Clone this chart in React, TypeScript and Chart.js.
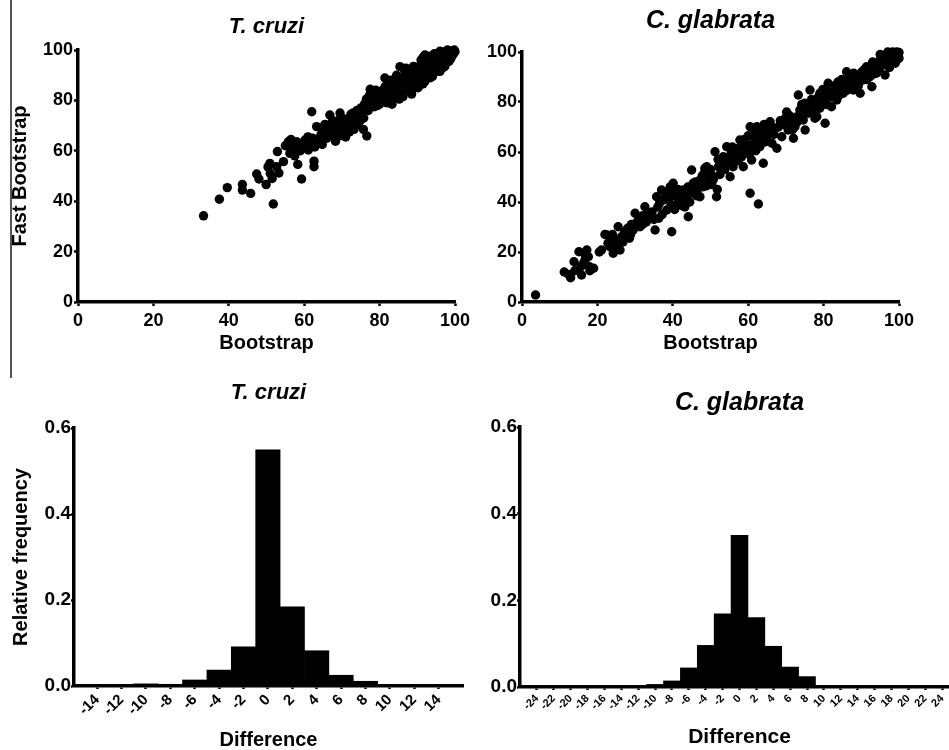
import React, { useEffect, useRef } from "react";
import { Chart, registerables } from "chart.js";
Chart.register(...registerables);

// ---------- data ----------
const scatterTicks = [0, 20, 40, 60, 80, 100];
const freqTicks = [0, 0.2, 0.4, 0.6];

// T. cruzi: [Bootstrap, Fast Bootstrap]
const tcruziScatter: [number, number][] = [
  [33.3, 34.2], [37.5, 40.8], [39.6, 45.4], [43.6, 46.6], [43.6, 44.4], [45.8, 43.1], [47.4, 50.8], [48, 48.8],
  [49.9, 46.6], [51.8, 38.9], [50.4, 53.6], [51, 51], [50.9, 55], [52.7, 53.7], [52.9, 59.7], [54.5, 55.7],
  [53.3, 51.2], [51.5, 49], [58.3, 54.6], [59.3, 48.8], [62.6, 55.9], [62.6, 53.7], [62, 75.5],
  [55.8, 63.6], [56.2, 59], [57, 61.5], [58, 63.6], [58.5, 60.5], [59.2, 62.5], [60.2, 64.3], [60.5, 61.8],
  [61.1, 60.3], [61.5, 63], [62.2, 65], [62.8, 61.5], [63.3, 69.6], [63.5, 64], [64.2, 63.6], [64.5, 66.5],
  [65.1, 67.6], [65.5, 70.5], [66, 65], [66.8, 74.2], [66.5, 68], [67.2, 66.3], [67.8, 69], [68.6, 69.6],
  [68.3, 63.8], [69, 72], [69.5, 66], [69.5, 75], [70.2, 68], [70.5, 70.5], [71, 65.5], [71.3, 72.5],
  [71.8, 69.5], [72.4, 74.5], [72.8, 71], [73.2, 68.5], [73.5, 73.5], [74, 76], [74.3, 70.5], [75, 72.3],
  [75.7, 68.5], [76.6, 65.9], [75.5, 75], [76, 78.5], [76.5, 80.5], [77, 76], [77.5, 84.4], [77.8, 79],
  [78.2, 81.5], [78.6, 77.5], [79.2, 80], [79.6, 83], [80, 78.5], [80.3, 81], [80.8, 84], [81.3, 79.5],
  [81.4, 88.9], [81.8, 82.5], [82.3, 85], [82.5, 80.4], [82.8, 83.5], [83.3, 78.5], [83.5, 86.5], [84, 82],
  [84.4, 84.5], [84.8, 87.5], [85.4, 93.4], [85.2, 80.5], [85.6, 85.5], [86, 83], [86, 88.5], [86.5, 86],
  [86.9, 90], [87.3, 84], [87.5, 88], [88, 86], [88, 91.5], [88.5, 89], [88.8, 84.5], [89.2, 92.5],
  [89.5, 87.5], [89.8, 90.5], [90.2, 85], [90.5, 93.5], [90.7, 88.5], [91, 96], [91.2, 91], [91.5, 86.5],
  [91.8, 94], [92.2, 89.5], [92.5, 92.5], [92.8, 96.5], [93.2, 90.5], [93.5, 94.5], [93.8, 92], [94.2, 97],
  [94.5, 93.5], [94.8, 95.5], [95.2, 91.5], [95.5, 97], [95.8, 94.5], [96.2, 96], [96.5, 98.5], [96.8, 93],
  [97.2, 97.5], [97.5, 95.5], [97.8, 99.5], [98.2, 97], [98.5, 98.5], [98.8, 96.5], [99.2, 99.5], [99.5, 98.2],
  [99.8, 100], [100, 99.3], [98, 100], [97, 99.2], [95, 98.5], [93, 97.5], [94, 89.5], [90, 91.5],
  [88.5, 82.5], [87, 91.5], [84.5, 90], [83, 88], [86.2, 81.5], [92, 98], [96, 91.5],
  [55, 62], [56.5, 64.5], [57.5, 58], [59, 60], [60, 63.5], [61, 65.5], [62, 62], [63, 64.5], [64, 65],
  [64.8, 62.5], [65.5, 66], [66.2, 70], [67, 68.5], [67.5, 72], [68, 65.5], [68.8, 67.5], [69.3, 70], [70, 73],
  [70.8, 67], [71.5, 70], [72, 67.5], [72.5, 72], [73, 75], [73.8, 72], [74.5, 74], [75, 77], [75.8, 73],
  [76.3, 76.5], [77, 79.5], [77.3, 82], [78, 78], [78.8, 80.5], [79, 84], [79.5, 78], [80.2, 83], [80.5, 80],
  [81, 82], [81.5, 85.5], [82, 79], [82.6, 87], [83, 84.5], [83.8, 81], [84.2, 85.5], [84.6, 83], [85, 88],
  [85.8, 84], [86.3, 87], [86.7, 91.5], [87, 85.5], [87.7, 89], [88.2, 87.5], [88.7, 90.5], [89, 85.5],
  [89.5, 89], [90, 87], [90.3, 90], [90.8, 92], [91.3, 89], [91.7, 92.5], [92, 87.5], [92.3, 95], [92.7, 91],
  [93, 93.5], [93.5, 89], [93.8, 96], [94.3, 94.5], [94.7, 92], [95, 96], [95.5, 93.5], [95.8, 98], [96.3, 94],
  [96.7, 96.5], [97, 98], [97.3, 93.5], [97.7, 96.5], [98, 98.5], [98.4, 95.5], [98.7, 99.5], [99, 97],
  [99.3, 98.8], [99.7, 99], [96, 99.5], [94.5, 98.5], [91.5, 97], [89, 93.5], [87, 92.8],
];

// C. glabrata: [Bootstrap, Fast Bootstrap]
const glabrataScatter: [number, number][] = [
  [3.6, 2.8], [11.2, 12], [12.4, 11], [12.9, 9.7], [13.8, 16.1], [15.6, 14.1], [16.3, 15.5], [17.2, 20.8],
  [17.6, 18.1], [17.9, 14.1], [15.1, 20.1], [16.7, 16.8], [15.8, 10.8], [18, 12.5],
  [21.1, 20.8], [22.5, 26.8], [23.3, 22.1], [24.2, 19.5], [25.5, 23.5], [25.5, 30.1], [26, 20.8], [26.4, 26.1],
  [22, 27], [23.8, 24.5], [24.8, 21.5], [26.8, 24], [27.2, 28], [27.8, 27.5], [28.5, 25.5], [29.5, 28.8],
  [30, 35.5], [29, 31], [31.3, 30.1], [31, 33], [32.6, 38.1], [32, 34.5], [33, 32], [34, 34.1], [35.3, 28.8],
  [35.7, 42.1], [34.5, 36], [36, 38], [36.3, 33.5],
  [37, 44.8], [37.5, 40.8], [38.4, 36.8], [38, 42], [39.3, 46.1], [39.7, 28.1], [40.1, 47.5], [39.5, 39],
  [40, 43.5], [40.5, 37], [41, 42.1], [41.4, 45], [41.9, 39.5], [42.3, 41.5], [42.8, 44.8], [43.2, 38],
  [43.7, 40.8], [44.1, 34.1], [44.6, 43.5], [45, 52.8], [45.4, 47.5], [45.8, 45], [46.3, 42.5], [47.2, 48.8],
  [47.2, 42.1], [47.8, 50.5], [48.1, 46.1], [48.5, 53.5], [49, 54.1], [49.5, 49], [49.9, 51.5], [50.3, 47],
  [50.7, 48.8], [51.2, 60.1], [51.6, 42.1], [51.8, 45], [52.1, 54.1], [52.5, 51], [53, 56], [53.4, 58.1],
  [53.8, 53], [54.3, 62.1], [54.8, 57], [55.2, 50.1], [55.5, 59.5], [56, 54.1], [56.4, 61], [57, 60.1],
  [57.4, 56.5], [57.8, 64.8], [58.2, 58], [58.7, 54.1], [59.2, 62.5], [59.6, 60.8], [60, 66.5], [60.5, 70.1],
  [60.5, 43.5], [60.9, 56.8], [61.2, 63], [61.4, 66.1], [61.8, 68.5], [62, 60.5], [62.3, 70.1], [62.7, 39.2],
  [62.8, 65], [63.1, 62.1], [63.5, 67.5], [64, 68.8], [64, 55.5], [64.4, 64], [64.9, 66.1], [65.3, 69.5],
  [65.8, 72.1], [66.3, 63.5], [66.8, 67], [67.6, 61.5], [68, 70], [68.9, 66.1], [69.4, 71], [69.8, 73.5],
  [70.2, 76], [70.6, 68.8], [71.2, 72.5], [72, 65.5], [72.4, 70.1], [72.8, 74], [73.3, 82.8], [73.7, 76.8],
  [74.2, 79], [74.6, 72.8], [75.1, 68.8], [75.5, 77.5], [75.9, 75.5], [76.4, 84.8], [76.8, 81], [77.3, 79.5],
  [77.7, 73.5], [78.2, 74.1], [78.6, 82], [79, 77.5], [79.4, 80], [79.8, 85], [80.4, 71.5], [80.4, 82.1],
  [80.8, 79], [81.2, 87.5], [81.6, 83], [82.1, 78.1], [82.6, 84.1], [83, 86.5], [83.5, 80.8], [84, 82.5],
  [84.4, 86.1], [84.8, 89], [85.2, 83.5], [85.6, 85.5], [86.1, 92.1], [86.5, 88], [87, 87.5], [87.4, 90],
  [87.9, 84.8], [88.3, 88.5], [88.8, 90.1], [89.2, 86.5], [89.7, 83.5], [90.1, 92], [90.5, 88.8], [91, 90.5],
  [91.4, 94.1], [91.8, 91.5], [92.3, 90.1], [92.8, 86.1], [93.2, 93], [93.6, 94.1], [94, 91.5], [94.5, 96.1],
  [94.9, 93.5], [95.4, 97.5], [95.8, 95], [96.3, 90.8], [96.7, 94.8], [97.1, 97], [97.6, 98.8], [98, 96],
  [98.5, 97.5], [98.9, 99.2], [99, 95.5], [99.4, 100], [99.8, 98.5], [100, 99.8], [97, 100], [96, 98.5],
  [98.3, 100], [95, 99], [93, 96], [99.5, 97], [100, 97.5],
  [19, 13.5], [14, 12.5], [16.5, 19.5], [20.5, 20], [22.8, 23.5], [24, 27], [25, 25], [27, 25.5], [28, 29.5],
  [28.8, 27], [30.5, 32], [32, 31], [33.5, 35.5], [35, 33], [36.5, 39.5], [37.2, 35], [38.5, 44], [39, 41.5],
  [40.5, 45], [41, 39], [41.8, 43.5], [42.5, 38.5], [43, 43], [44, 46], [44.5, 40], [45.5, 44], [46, 48],
  [46.8, 45.5], [47.5, 47], [48.3, 51.5], [49, 46.5], [50, 53], [51, 50], [52, 57], [53, 53.5], [54, 55.5],
  [55, 58], [55.8, 62], [56.5, 57.5], [57.5, 61.5], [58.5, 60], [59, 65], [59.8, 63], [60.3, 59], [61, 61.5],
  [61.5, 69.5], [62, 67], [62.5, 63.5], [63, 69], [63.5, 64.5], [64.2, 71], [65, 67.5], [66, 70.5], [67, 69],
  [68.5, 72.5], [70, 71], [71, 74.5], [71.8, 69], [73, 72], [74, 75], [75, 79.5], [76, 78], [77, 76.5],
  [78, 80.5], [79, 83.5], [80, 81], [81, 84.5], [82, 82], [83, 83.5], [83.8, 88], [84.5, 84], [85.5, 87.5],
  [86, 84.5], [86.8, 89.5], [87.5, 86], [88, 91.5], [89, 88], [90, 90], [90.8, 93], [91.5, 89], [92, 92.5],
  [93, 91], [93.8, 95.5], [94.3, 93], [95, 94], [95.6, 96.5], [96.2, 95.5], [96.8, 97.5], [97.3, 95],
  [97.8, 99.5], [98.2, 97], [98.7, 98.5], [99.2, 96.5], [99.6, 99], [97.5, 93.8],
];

// Histograms of Fast Bootstrap - Bootstrap
const tcruziBins = [-14, -12, -10, -8, -6, -4, -2, 0, 2, 4, 6, 8, 10, 12, 14];
const tcruziFreq = [0.001, 0.003, 0.005, 0.004, 0.014, 0.037, 0.091, 0.549, 0.184, 0.082, 0.025, 0.011, 0.001, 0.001, 0.003];

const glabrataBins = [-24, -22, -20, -18, -16, -14, -12, -10, -8, -6, -4, -2, 0, 2, 4, 6, 8, 10, 12, 14, 16, 18, 20, 22, 24];
const glabrataFreq = [0.002, 0.001, 0.001, 0.001, 0.002, 0.001, 0.002, 0.006, 0.014, 0.044, 0.096, 0.169, 0.35, 0.16, 0.094, 0.046, 0.024, 0, 0, 0, 0, 0, 0, 0, 0];

// ---------- styling helpers ----------
const FONT = "'Liberation Sans', Arial, sans-serif";
const BLACK = "#000";

function axisLines(tickLength: number) {
  return {
    grid: {
      display: true,
      drawOnChartArea: false,
      drawTicks: true,
      tickLength,
      tickWidth: 2.5,
      tickColor: BLACK,
      offset: false,
    },
    border: { display: true, width: 3.5, color: BLACK },
  };
}

function setTicks(values: number[]) {
  return (scale: any) => {
    scale.ticks = values.map((v) => ({ value: v }));
  };
}

interface ScatterOpts {
  points: [number, number][];
  title: string;
  titleSize: number;
  titlePad: { top: number; bottom: number };
  yTitle?: string;
  yWidth: number;
  xHeight: number;
  padRight: number;
}

function scatterConfig(p: ScatterOpts): any {
  return {
    type: "scatter",
    data: {
      datasets: [
        {
          data: p.points.map(([x, y]) => ({ x, y })),
          pointRadius: 4.7,
          pointBackgroundColor: BLACK,
          pointBorderWidth: 0,
          clip: false,
        },
      ],
    },
    options: {
      animation: false,
      responsive: false,
      events: [],
      layout: { padding: { left: 0, right: p.padRight, top: 0, bottom: 0 } },
      plugins: {
        legend: { display: false },
        tooltip: { enabled: false },
        title: {
          display: true,
          fullSize: false,
          text: p.title,
          color: BLACK,
          font: { family: FONT, size: p.titleSize, weight: "bold", style: "italic", lineHeight: 1.2 },
          padding: p.titlePad,
        },
      },
      scales: {
        x: {
          type: "linear",
          min: 0,
          max: 100,
          afterBuildTicks: setTicks(scatterTicks),
          afterFit: (s: any) => {
            s.height = p.xHeight;
          },
          ticks: { color: BLACK, font: { family: FONT, size: 18, weight: "bold" }, padding: 4, maxRotation: 0, autoSkip: false },
          title: {
            display: true,
            text: "Bootstrap",
            color: BLACK,
            font: { family: FONT, size: 20, weight: "bold", lineHeight: 1.2 },
            padding: { top: 0, bottom: 20 },
          },
          ...axisLines(4),
        },
        y: {
          type: "linear",
          min: 0,
          max: 100,
          afterBuildTicks: setTicks(scatterTicks),
          afterFit: (s: any) => {
            s.width = p.yWidth;
          },
          ticks: { color: BLACK, font: { family: FONT, size: 18, weight: "bold" }, padding: 1, autoSkip: false },
          title: p.yTitle
            ? {
                display: true,
                text: p.yTitle,
                color: BLACK,
                font: { family: FONT, size: 20, weight: "bold", lineHeight: 1.2 },
                padding: { top: 8.5, bottom: 0 },
              }
            : { display: false },
          ...axisLines(4),
        },
      },
    },
  };
}

interface HistOpts {
  bins: number[];
  freq: number[];
  title: string;
  titleSize: number;
  titlePad: { top: number; bottom: number };
  yTitle?: string;
  yWidth: number;
  xHeight: number;
  padRight: number;
  xMin: number;
  xMax: number;
  xTickSize: number;
  xTickPad: number;
  xTitleSize: number;
  xTitleBottom: number;
}

function histConfig(p: HistOpts): any {
  return {
    type: "bar",
    data: {
      datasets: [
        {
          data: p.bins.map((b, i) => ({ x: b, y: p.freq[i] })),
          backgroundColor: BLACK,
          borderColor: BLACK,
          borderWidth: 0,
          barPercentage: 1,
          categoryPercentage: 1,
        },
      ],
    },
    options: {
      animation: false,
      responsive: false,
      events: [],
      layout: { padding: { left: 0, right: p.padRight, top: 0, bottom: 0 } },
      plugins: {
        legend: { display: false },
        tooltip: { enabled: false },
        title: {
          display: true,
          fullSize: false,
          text: p.title,
          color: BLACK,
          font: { family: FONT, size: p.titleSize, weight: "bold", style: "italic", lineHeight: 1.2 },
          padding: p.titlePad,
        },
      },
      scales: {
        x: {
          type: "linear",
          offset: false,
          min: p.xMin,
          max: p.xMax,
          afterBuildTicks: setTicks(p.bins),
          afterFit: (s: any) => {
            s.height = p.xHeight;
          },
          ticks: {
            color: BLACK,
            font: { family: FONT, size: p.xTickSize, weight: "bold" },
            padding: p.xTickPad,
            minRotation: 45,
            maxRotation: 45,
            autoSkip: false,
            callback: (v: any) => String(v),
          },
          title: {
            display: true,
            text: "Difference",
            color: BLACK,
            font: { family: FONT, size: p.xTitleSize, weight: "bold", lineHeight: 1 },
            padding: { top: 0, bottom: p.xTitleBottom },
          },
          ...axisLines(3),
        },
        y: {
          type: "linear",
          min: 0,
          max: 0.6,
          afterBuildTicks: setTicks(freqTicks),
          afterFit: (s: any) => {
            s.width = p.yWidth;
          },
          ticks: {
            color: BLACK,
            font: { family: FONT, size: 19, weight: "bold" },
            padding: 0,
            autoSkip: false,
            callback: (v: any) => Number(v).toFixed(1),
          },
          title: p.yTitle
            ? {
                display: true,
                text: p.yTitle,
                color: BLACK,
                font: { family: FONT, size: 20, weight: "bold", lineHeight: 1.2 },
                padding: { top: 9.5, bottom: 0 },
              }
            : { display: false },
          ...axisLines(3),
        },
      },
    },
  };
}

function Panel(props: { left: number; top: number; width: number; height: number; config: any }) {
  const ref = useRef<HTMLCanvasElement>(null);
  useEffect(() => {
    if (!ref.current) return;
    const chart = new Chart(ref.current, props.config);
    return () => chart.destroy();
  }, []);
  return (
    <canvas
      ref={ref}
      width={props.width}
      height={props.height}
      style={{ position: "absolute", left: props.left, top: props.top, width: props.width, height: props.height }}
    />
  );
}

export default function App() {
  const a = scatterConfig({
    points: tcruziScatter,
    title: "T. cruzi",
    titleSize: 22,
    titlePad: { top: 13.4, bottom: 10.2 },
    yTitle: "Fast Bootstrap",
    yWidth: 78,
    xHeight: 73,
    padRight: 20,
  });
  const b = scatterConfig({
    points: glabrataScatter,
    title: "C. glabrata",
    titleSize: 25,
    titlePad: { top: 6, bottom: 16 },
    yWidth: 47,
    xHeight: 73,
    padRight: 50,
  });
  const c = histConfig({
    bins: tcruziBins,
    freq: tcruziFreq,
    title: "T. cruzi",
    titleSize: 22,
    titlePad: { top: 4.8, bottom: 21.8 },
    yTitle: "Relative frequency",
    yWidth: 74,
    xHeight: 64,
    padRight: 12,
    xMin: -15.9,
    xMax: 16,
    xTickSize: 15,
    xTickPad: 2,
    xTitleSize: 20,
    xTitleBottom: 0,
  });
  const d = histConfig({
    bins: glabrataBins,
    freq: glabrataFreq,
    title: "C. glabrata",
    titleSize: 25,
    titlePad: { top: 13, bottom: 9 },
    yWidth: 45,
    xHeight: 63,
    padRight: 6,
    xMin: -26,
    xMax: 26,
    xTickSize: 11,
    xTickPad: 2,
    xTitleSize: 21,
    xTitleBottom: 2.5,
  });
  return (
    <div style={{ position: "absolute", left: 0, top: 0, width: 949, height: 750, overflow: "hidden", background: "#fff" }}>
      <div style={{ position: "absolute", left: 10, top: 0, width: 2, height: 378, background: "#555" }} />
      <Panel left={0} top={0} width={475} height={375} config={a} />
      <Panel left={475} top={0} width={474} height={375} config={b} />
      <Panel left={0} top={375} width={475} height={375} config={c} />
      <Panel left={475} top={375} width={490} height={375} config={d} />
    </div>
  );
}
